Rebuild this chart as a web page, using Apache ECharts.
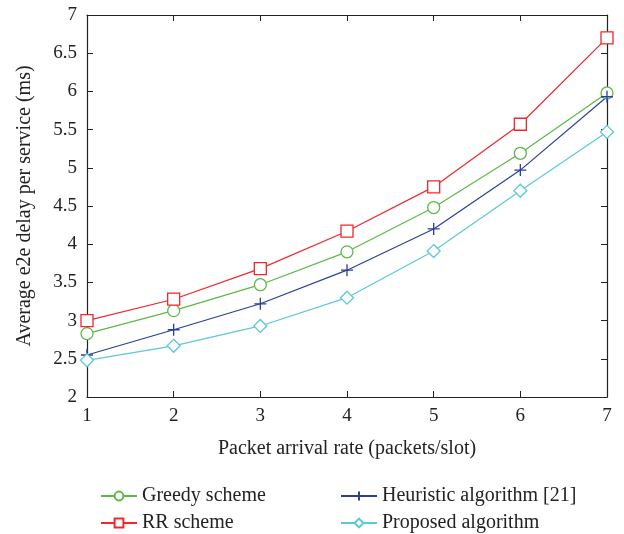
<!DOCTYPE html>
<html>
<head>
<meta charset="utf-8">
<title>e2e delay</title>
<script src="https://cdn.jsdelivr.net/npm/echarts@6/dist/echarts.min.js"></script>
<style>
  html, body { margin: 0; padding: 0; background: #fff; }
  #main { width: 624px; height: 534px; }
</style>
</head>
<body>
<div id="main"></div>
<script>
// packet arrival rate (packets/slot)
var rates = [1, 2, 3, 4, 5, 6, 7];
var greedy    = [2.83, 3.13, 3.47, 3.90, 4.48, 5.19, 5.98];
var rr        = [3.00, 3.28, 3.68, 4.17, 4.75, 5.57, 6.70];
var heuristic = [2.55, 2.88, 3.22, 3.66, 4.20, 4.97, 5.93];
var proposed  = [2.48, 2.67, 2.93, 3.30, 3.91, 4.70, 5.47];

var chart = echarts.init(document.getElementById('main'));
var font = 'Liberation Serif';
var plus = 'path://M0,5L10,5M5,0L5,10';

function pairs(vals) {
  var out = [];
  for (var i = 0; i < rates.length; i++) out.push([rates[i], vals[i]]);
  return out;
}

function line(name, color, symbol, size, vals) {
  return {
    name: name,
    type: 'line',
    data: pairs(vals),
    symbol: symbol,
    symbolSize: size,
    showAllSymbol: true,
    lineStyle: { color: color, width: 1.2 },
    itemStyle: { color: symbol === plus ? color : '#fff', borderColor: color, borderWidth: 1.3 },
    emphasis: { disabled: true },
    animation: false
  };
}

// one legend per entry, placed in two columns
function leg(name, left, top) {
  return {
    left: left, top: top, itemWidth: 36, itemHeight: 11, itemGap: 8,
    textStyle: { fontFamily: font, fontSize: 20, color: '#222' },
    data: [name]
  };
}

var tickStyle = { inside: true, length: 6, lineStyle: { color: '#222' } };
var lineSty = { lineStyle: { color: '#222', width: 1.2 } };

chart.setOption({
  backgroundColor: '#fff',
  grid: { left: 87, right: 17, top: 15, bottom: 137 },
  xAxis: [{
    type: 'value', min: 1, max: 7, interval: 1,
    name: 'Packet arrival rate (packets/slot)',
    nameLocation: 'middle', nameGap: 42,
    nameTextStyle: { fontFamily: font, fontSize: 20, color: '#222' },
    axisLine: lineSty, axisTick: tickStyle, splitLine: { show: false },
    axisLabel: { fontFamily: font, fontSize: 19, color: '#222', margin: 10 }
  }, {
    type: 'value', min: 1, max: 7, interval: 1, position: 'top',
    axisLine: lineSty, axisTick: tickStyle, splitLine: { show: false },
    axisLabel: { show: false }
  }],
  yAxis: [{
    type: 'value', min: 2, max: 7, interval: 0.5,
    name: 'Average e2e delay per service (ms)',
    nameLocation: 'middle', nameGap: 52,
    nameTextStyle: { fontFamily: font, fontSize: 20, color: '#222' },
    axisLine: lineSty, axisTick: tickStyle, splitLine: { show: false },
    axisLabel: { fontFamily: font, fontSize: 19, color: '#222', margin: 10 }
  }, {
    type: 'value', min: 2, max: 7, interval: 0.5, position: 'right',
    axisLine: lineSty, axisTick: tickStyle, splitLine: { show: false },
    axisLabel: { show: false }
  }],
  legend: [
    leg('Greedy scheme', 95, 481),
    leg('RR scheme', 95, 508),
    leg('Heuristic algorithm [21]', 335, 481),
    leg('Proposed algorithm', 335, 508)
  ],
  series: [
    line('Greedy scheme', '#5cb947', 'circle', 12, greedy),
    line('RR scheme', '#f0282d', 'rect', 12, rr),
    line('Heuristic algorithm [21]', '#2a3f9c', plus, 12, heuristic),
    line('Proposed algorithm', '#5cc8d8', 'diamond', 13, proposed)
  ]
});
</script>
</body>
</html>
